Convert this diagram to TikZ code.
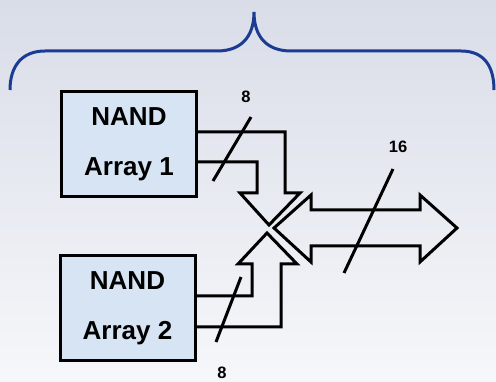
\documentclass[tikz,border=0pt]{standalone}
\usepackage{fontspec}
\setmainfont{Liberation Sans}
\definecolor{bgtop}{RGB}{217,221,232}
\definecolor{bgbot}{RGB}{246,247,250}
\definecolor{bracecol}{RGB}{28,60,148}
\definecolor{boxfill}{RGB}{214,228,244}
\begin{document}
\begin{tikzpicture}[x=1pt,y=-1pt,
  blockbox/.style={draw=black,line width=3pt,fill=boxfill,minimum width=135pt,minimum height=105pt,
    align=center,inner sep=0pt,font=\fontsize{26}{50}\selectfont\bfseries},
  busarrow/.style={draw=black,line width=3pt,line join=miter},
  slash/.style={draw=black,line width=3pt},
  buslabel/.style={font=\fontsize{16.5}{18}\selectfont\bfseries,inner sep=0pt}]
\shade[top color=bgtop,bottom color=bgbot] (0,0) rectangle (496,382);
\useasboundingbox (0,0) rectangle (496,382);
% brace
\draw[bracecol,line width=3pt] (10,90) .. controls (10,66) and (22,51) .. (45,51) -- (217,51)
  .. controls (240,51) and (254,38) .. (254,12)
  .. controls (254,38) and (268,51) .. (291,51) -- (461,51)
  .. controls (484,51) and (494,66) .. (494,90);
% boxes
\node[blockbox] (a1) at (129,144) {NAND\\Array 1};
\node[blockbox] (a2) at (127.5,308.5) {NAND\\Array 2};
% down arrow from array 1
\draw[busarrow] (197,132) -- (285,132) -- (285,193) -- (300,193) -- (269,225) -- (240,193)
  -- (257,193) -- (257,162) -- (197,162);
% up arrow from array 2
\draw[busarrow] (194,327) -- (281,327) -- (281,264) -- (297,264) -- (267,233) -- (238,264)
  -- (252,264) -- (252,296) -- (194,296);
% double arrow
\draw[busarrow] (274,228) -- (311,195) -- (311,210) -- (420,210) -- (420,195) -- (457,228)
  -- (420,262) -- (420,246) -- (311,246) -- (311,262) -- cycle;
% slashes
\draw[slash] (251,117) -- (213,181);
\draw[slash] (241,277) -- (216,342);
\draw[slash] (393,169) -- (344,273);
% labels
\node[buslabel] (l1) at (246,97) {8};
\node[buslabel] (l2) at (222,372.5) {8};
\node[buslabel] (l3) at (398,147) {16};
\end{tikzpicture}
\end{document}
